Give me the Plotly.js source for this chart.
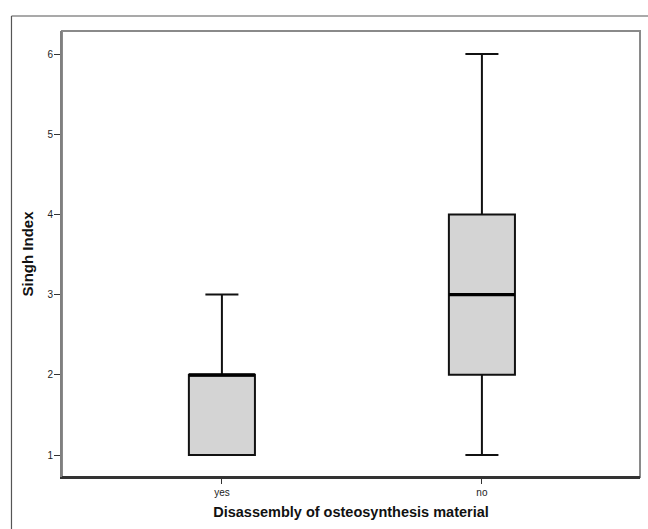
<!DOCTYPE html>
<html>
<head>
<meta charset="utf-8">
<script src="https://cdn.plot.ly/plotly-3.0.1.min.js"></script>
<style>
html,body{margin:0;padding:0;background:#fff;}
#chart{width:648px;height:529px;}
</style>
</head>
<body>
<div id="chart"></div>
<script>
const categories = ["yes", "no"];
const lowerFence = [1, 1];
const q1 = [1, 2];
const median = [2, 3];
const q3 = [2, 4];
const upperFence = [3, 6];
const yTicks = [1, 2, 3, 4, 5, 6];

const BOXW = 0.254;

const trace = {
  type: "box",
  x: categories,
  q1: q1,
  median: median,
  q3: q3,
  lowerfence: lowerFence,
  upperfence: upperFence,
  fillcolor: "#d4d4d4",
  line: {color: "#111111", width: 2},
  whiskerwidth: 0.5,
  width: BOXW,
  boxpoints: false,
  hoverinfo: "skip",
  showlegend: false
};

const medianShapes = median.map((m, i) => ({
  type: "line", xref: "x", yref: "y",
  x0: i - BOXW / 2, x1: i + BOXW / 2, y0: m, y1: m,
  line: {color: "#000000", width: 3.2}
}));

const layout = {
  width: 648,
  height: 529,
  margin: {l: 62, r: 8, t: 31, b: 52},
  paper_bgcolor: "#ffffff",
  plot_bgcolor: "#ffffff",
  showlegend: false,
  font: {family: "Liberation Sans, Arial, sans-serif", color: "#222"},
  xaxis: {
    type: "category",
    range: [-0.615, 1.608],
    showgrid: false,
    zeroline: false,
    showline: true,
    linecolor: "#333333",
    linewidth: 2,
    ticks: "outside",
    ticklen: 5,
    tickwidth: 1,
    tickcolor: "#333",
    tickfont: {size: 10, color: "#222"},
    title: {text: "<b>Disassembly of osteosynthesis material</b>", font: {size: 14.5, color: "#111"}, standoff: 10}
  },
  yaxis: {
    range: [0.726, 6.287],
    tickvals: yTicks,
    ticktext: yTicks.map(String),
    showgrid: false,
    zeroline: false,
    showline: true,
    linecolor: "#808080",
    linewidth: 2,
    ticks: "outside",
    ticklen: 6,
    tickwidth: 1,
    tickcolor: "#333",
    ticklabelstandoff: -1,
    tickfont: {size: 10, color: "#222"},
    title: {text: "<b>Singh Index</b>", font: {size: 15, color: "#111"}, standoff: 10}
  },
  shapes: [
    {type: "rect", xref: "paper", yref: "paper", x0: 0, x1: 1, y0: 0, y1: 1,
     line: {color: "#8a8a8a", width: 2}, layer: "below"},
    {type: "line", xref: "paper", yref: "paper", x0: 0, x1: 1, y0: 0, y1: 0,
     line: {color: "#333333", width: 2}},
    {type: "line", xref: "paper", yref: "paper", x0: -0.0874, x1: 1.2, y0: 1.0336, y1: 1.0336,
     line: {color: "#555555", width: 1.2}},
    {type: "line", xref: "paper", yref: "paper", x0: -0.0874, x1: -0.0874, y0: 1.0336, y1: -0.2,
     line: {color: "#555555", width: 1.2}}
  ].concat(medianShapes)
};

Plotly.newPlot("chart", [trace], layout, {displayModeBar: false, staticPlot: true});
</script>
</body>
</html>
